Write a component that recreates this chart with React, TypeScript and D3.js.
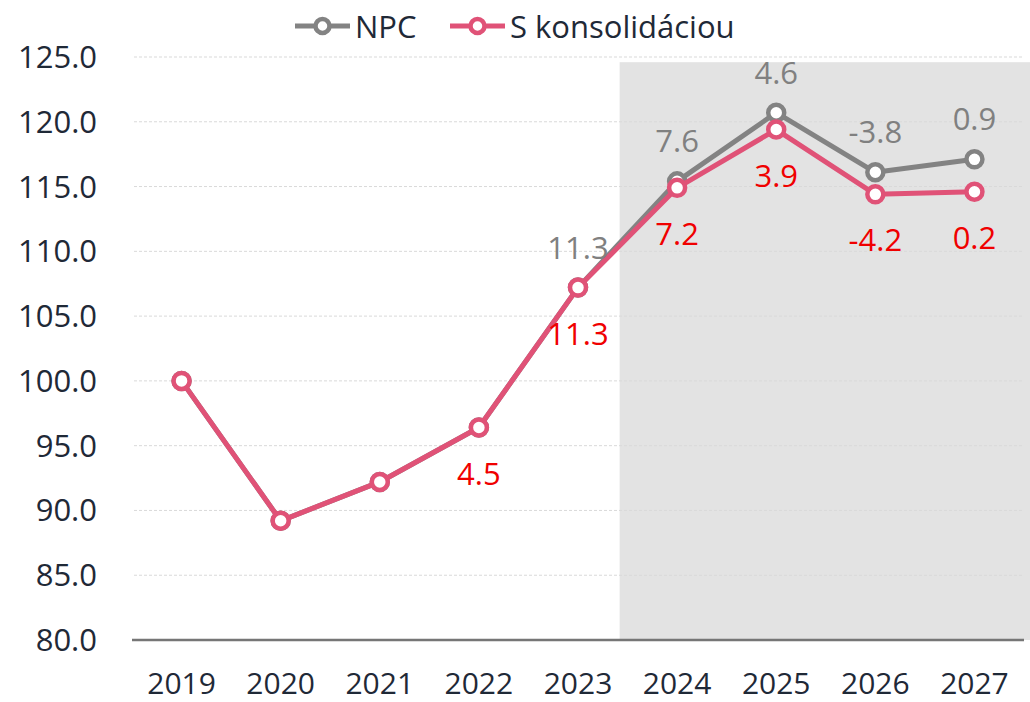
import React, { useEffect, useRef } from 'react';
import * as d3 from 'd3';

const years = ['2019', '2020', '2021', '2022', '2023', '2024', '2025', '2026', '2027'];
const npcValues = [100.0, 89.2, 92.2, 96.4, 107.2, 115.4, 120.7, 116.1, 117.1];
const konsValues = [100.0, 89.2, 92.2, 96.4, 107.2, 114.9, 119.4, 114.4, 114.6];
const npcLabels = ['', '', '', '', '11.3', '7.6', '4.6', '-3.8', '0.9'];
const konsLabels = ['', '', '', '4.5', '11.3', '7.2', '3.9', '-4.2', '0.2'];
const yTicks = [80, 85, 90, 95, 100, 105, 110, 115, 120, 125];
const forecastYears = ['2024', '2025', '2026', '2027'];

const width = 1030;
const height = 702;
const margins = { top: 57, bottom: 62, left: 132, right: 6 };

const font = '"Open Sans", sans-serif';
const fontWeight = 400;
const textColor = '#1f2937';
const grayColor = '#838383';
const pinkColor = '#e05277';

export default function App(): JSX.Element {
  const container = useRef<SVGSVGElement>(null);

  useEffect(() => {
    const svg = d3.select(container.current);
    svg.selectAll('*').remove();

    const xScale = d3
      .scaleBand()
      .domain(years)
      .range([margins.left, width - margins.right]);
    const yScale = d3
      .scaleLinear()
      .domain([80, 125])
      .range([height - margins.bottom, margins.top]);
    const cx = (y: string) => (xScale(y) || 0) + xScale.bandwidth() / 2;

    // forecast band
    const bandLeft = cx(forecastYears[0]) - xScale.bandwidth() * 0.58;
    svg
      .append('rect')
      .attr('x', bandLeft)
      .attr('y', yScale(124.6))
      .attr('width', width - bandLeft)
      .attr('height', yScale(80) - yScale(124.6))
      .attr('fill', '#e3e3e3');

    // gridlines
    svg
      .append('g')
      .selectAll('line')
      .data(yTicks.filter((t) => t > 80))
      .join('line')
      .attr('x1', margins.left + 2)
      .attr('x2', width - margins.right)
      .attr('y1', (d) => yScale(d))
      .attr('y2', (d) => yScale(d))
      .attr('stroke', '#d9d9d9')
      .attr('stroke-dasharray', '3,2')
      .attr('stroke-width', 1);

    // y labels
    svg
      .append('g')
      .selectAll('text')
      .data(yTicks)
      .join('text')
      .attr('x', 97)
      .attr('y', (d) => yScale(d) + 11)
      .attr('text-anchor', 'end')
      .attr('font-family', font)
      .attr('font-weight', fontWeight)
      .attr('font-size', 31)
      .attr('fill', textColor)
      .text((d) => d.toFixed(1));

    // x axis line
    svg
      .append('line')
      .attr('x1', margins.left)
      .attr('x2', width - margins.right)
      .attr('y1', yScale(80))
      .attr('y2', yScale(80))
      .attr('stroke', '#767676')
      .attr('stroke-width', 2.5);

    // x labels
    svg
      .append('g')
      .selectAll('text')
      .data(years)
      .join('text')
      .attr('x', (d) => cx(d))
      .attr('y', 694)
      .attr('text-anchor', 'middle')
      .attr('font-family', font)
      .attr('font-weight', fontWeight)
      .attr('font-size', 30)
      .attr('fill', textColor)
      .text((d) => d);

    const lineGenerator = d3
      .line<number>()
      .x((d, i) => cx(years[i]))
      .y((d) => yScale(d));

    const drawSeries = (values: number[], color: string) => {
      svg
        .append('path')
        .attr('d', lineGenerator(values) || '')
        .attr('stroke', color)
        .attr('stroke-width', 5)
        .attr('stroke-linejoin', 'round')
        .attr('fill', 'none');
      svg
        .append('g')
        .selectAll('circle')
        .data(values)
        .join('circle')
        .attr('cx', (d, i) => cx(years[i]))
        .attr('cy', (d) => yScale(d))
        .attr('r', 8)
        .attr('fill', '#fff')
        .attr('stroke', color)
        .attr('stroke-width', 4.5);
    };
    drawSeries(npcValues, grayColor);
    drawSeries(konsValues, pinkColor);

    // data labels
    const drawLabels = (values: number[], labels: string[], color: string, dy: number) => {
      svg
        .append('g')
        .selectAll('text')
        .data(labels)
        .join('text')
        .attr('x', (d, i) => cx(years[i]))
        .attr('y', (d, i) => yScale(values[i]) + dy)
        .attr('text-anchor', 'middle')
        .attr('font-family', font)
        .attr('font-weight', fontWeight)
        .attr('font-size', 31)
        .attr('fill', color)
        .text((d) => d);
    };
    drawLabels(npcValues, npcLabels, '#808080', -29);
    drawLabels(konsValues, konsLabels, '#f00000', 57);

    // legend
    const legendItems = [
      { name: 'NPC', color: grayColor, x: 295 },
      { name: 'S konsolidáciou', color: pinkColor, x: 450 },
    ];
    const legend = svg
      .append('g')
      .selectAll('g')
      .data(legendItems)
      .join('g')
      .attr('transform', (d) => 'translate(' + d.x + ',26)');
    legend
      .append('line')
      .attr('x1', 0)
      .attr('x2', 55)
      .attr('stroke', (d) => d.color)
      .attr('stroke-width', 5);
    legend
      .append('circle')
      .attr('cx', 27.5)
      .attr('r', 7)
      .attr('fill', '#fff')
      .attr('stroke', (d) => d.color)
      .attr('stroke-width', 4.5);
    legend
      .append('text')
      .attr('x', 60)
      .attr('y', 12)
      .attr('font-family', font)
      .attr('font-weight', fontWeight)
      .attr('font-size', 31)
      .attr('fill', textColor)
      .text((d) => d.name);
  }, []);

  return (
    <svg
      ref={container}
      width={width}
      height={height}
      style={{ position: 'absolute', left: 0, top: 0, background: '#fff' }}
    />
  );
}
